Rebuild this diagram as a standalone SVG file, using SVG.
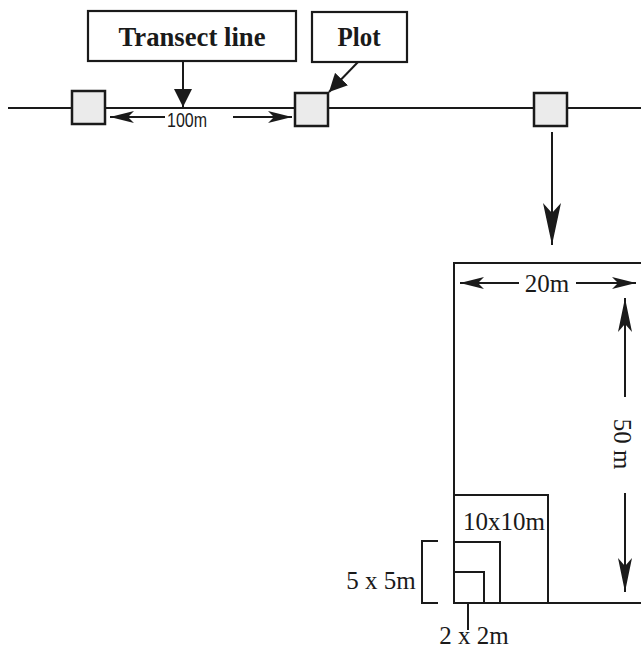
<svg xmlns="http://www.w3.org/2000/svg" width="641" height="651" viewBox="0 0 641 651">
<style>
.ln{stroke:#1a1a1a;stroke-width:2;fill:none}
.bx{stroke:#1a1a1a;stroke-width:2.2;fill:#ffffff}
.pl{stroke:#1a1a1a;stroke-width:2.5;fill:#ebebeb}
.lbl{font-family:"Liberation Serif",serif;font-weight:bold;fill:#1a1a1a}
.dim{font-family:"Liberation Serif",serif;font-size:25px;fill:#1a1a1a}
.sans{font-family:"Liberation Sans",Arial,sans-serif;font-size:20px;fill:#1a1a1a}
</style>
<defs>
<marker id="ahBig" markerUnits="userSpaceOnUse" viewBox="0 -9 42 18" refX="42" refY="0" markerWidth="42" markerHeight="18" orient="auto">
<path d="M0,-9 L42,0 L0,9 L10,0 Z" fill="#1a1a1a"/>
</marker>
<marker id="ahMed" markerUnits="userSpaceOnUse" viewBox="0 -7 34 14" refX="34" refY="0" markerWidth="34" markerHeight="14" orient="auto-start-reverse">
<path d="M0,-7 L34,0 L0,7 L8,0 Z" fill="#1a1a1a"/>
</marker>
<marker id="ahSm" markerUnits="userSpaceOnUse" viewBox="0 -6 24 12" refX="24" refY="0" markerWidth="24" markerHeight="12" orient="auto-start-reverse">
<path d="M0,-6 L24,0 L0,6 L6,0 Z" fill="#1a1a1a"/>
</marker>
<marker id="ahTri" markerUnits="userSpaceOnUse" viewBox="0 -9 18 18" refX="18" refY="0" markerWidth="18" markerHeight="18" orient="auto">
<path d="M0,-9 L18,0 L0,9 Z" fill="#1a1a1a"/>
</marker>
</defs>

<g id="connectors">
<line class="ln" x1="8" y1="108" x2="641" y2="108"/>
<line class="ln" x1="183" y1="62" x2="183" y2="107" marker-end="url(#ahTri)"/>
<line class="ln" x1="358" y1="62" x2="329" y2="92" marker-end="url(#ahTri)"/>
<line class="ln" x1="165" y1="117" x2="110" y2="117" marker-end="url(#ahSm)"/>
<line class="ln" x1="233" y1="117" x2="292" y2="117" marker-end="url(#ahSm)"/>
<line class="ln" stroke-width="2.5" x1="552" y1="132" x2="552" y2="245" marker-end="url(#ahBig)"/>
</g>

<g id="transect-label">
<rect class="bx" x="88" y="11" width="208" height="50"/>
<text class="lbl" x="192" y="46" font-size="27" text-anchor="middle" textLength="147" lengthAdjust="spacingAndGlyphs">Transect line</text>
</g>
<g id="plot-label">
<rect class="bx" x="312" y="12" width="95" height="50"/>
<text class="lbl" x="359" y="46" font-size="27" text-anchor="middle" textLength="43" lengthAdjust="spacingAndGlyphs">Plot</text>
</g>

<g id="plot1"><rect class="pl" x="72" y="91" width="33" height="33"/></g>
<g id="plot2"><rect class="pl" x="295" y="93" width="33" height="33"/></g>
<g id="plot3"><rect class="pl" x="534" y="93" width="33" height="33"/></g>

<g id="distance-label">
<text class="sans" x="187" y="127" text-anchor="middle" textLength="40" lengthAdjust="spacingAndGlyphs">100m</text>
</g>

<g id="big-plot">
<path class="ln" d="M641,263 L454,263 L454,603 L641,603"/>
<line class="ln" x1="519" y1="283" x2="460" y2="283" marker-end="url(#ahSm)"/>
<line class="ln" x1="576" y1="283" x2="636" y2="283" marker-end="url(#ahSm)"/>
<text class="dim" x="547" y="292" text-anchor="middle">20m</text>
<line class="ln" x1="625" y1="397" x2="625" y2="298" marker-end="url(#ahMed)"/>
<line class="ln" x1="625" y1="493" x2="625" y2="592" marker-end="url(#ahMed)"/>
<text class="dim" transform="translate(614,444) rotate(90)" x="0" y="0" text-anchor="middle">50 m</text>
</g>

<g id="sub-plot-10">
<path class="ln" d="M454,495 L548,495 L548,603"/>
<text class="dim" x="504" y="530" text-anchor="middle">10x10m</text>
</g>
<g id="sub-plot-5">
<path class="ln" d="M454,542 L500,542 L500,603"/>
<path class="ln" d="M438,541 L422,541 L422,603 L438,603"/>
<text class="dim" x="381" y="589" text-anchor="middle">5 x 5m</text>
</g>
<g id="sub-plot-2">
<path class="ln" d="M454,572 L484,572 L484,603"/>
<line class="ln" x1="468" y1="603" x2="468" y2="630"/>
<text class="dim" x="474" y="644" text-anchor="middle">2 x 2m</text>
</g>
</svg>
